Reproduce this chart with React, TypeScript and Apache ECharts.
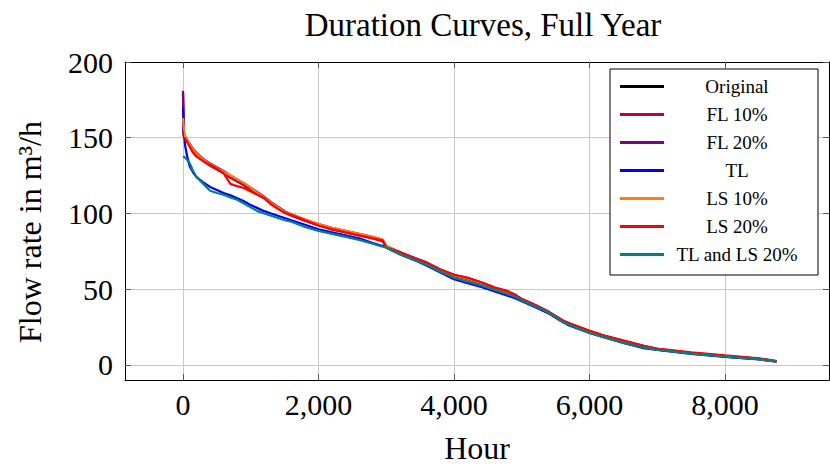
import React, { useEffect, useRef } from 'react';
import * as echarts from 'echarts';

const FONT = '"Liberation Serif", "Times New Roman", serif';

const hours = [0, 10, 30, 60, 100, 150, 200, 300, 400, 500, 600, 700, 800, 900, 1000, 1100, 1200, 1300, 1400, 1500, 1600, 1800, 2000, 2200, 2400, 2600, 2800, 2950, 3000, 3200, 3400, 3600, 3800, 4000, 4200, 4400, 4600, 4800, 4900, 5000, 5200, 5400, 5600, 5700, 6000, 6200, 6500, 6800, 7000, 7500, 8000, 8500, 8760];

const original = [180, 152, 150, 148, 145, 141.5, 139, 135, 132, 129.5, 127, 124, 121.5, 119, 116, 113, 110.5, 107, 104, 101, 99, 95.5, 92.5, 90, 88, 86, 84, 82, 78, 74, 70.5, 67, 62.5, 59, 57, 54, 50.5, 48, 46, 43, 39, 34.5, 29, 27, 22, 19, 15.5, 12, 10.3, 7.8, 5.8, 4, 2.3];
const fl10 = [179, 151, 149.5, 147.5, 144.5, 141, 138.5, 134.5, 131.5, 129, 126.5, 123.5, 121, 118.5, 115.5, 112.5, 110, 106.5, 103.5, 100.5, 98.5, 95, 92, 89.5, 87.5, 85.5, 83.5, 81.5, 77.5, 73.5, 70, 66.5, 62, 58.5, 56.5, 53.5, 50, 47.5, 45.5, 42.5, 38.5, 34, 28.5, 26.5, 21.5, 18.5, 15, 11.5, 10, 7.5, 5.5, 3.8, 2.2];
const fl20 = [181, 153, 151, 148.5, 146, 142.5, 140, 136, 133, 130.5, 128, 125, 122.5, 120, 117, 114, 111, 107.5, 104.5, 101.5, 99.5, 96, 93, 90.5, 88.5, 86.5, 84.5, 82.5, 78.5, 74.5, 71, 67.5, 63, 59.5, 57.5, 54.5, 51, 48.5, 46.5, 43.5, 39.5, 35, 29.5, 27.5, 22.5, 19.5, 16, 12.5, 10.6, 8, 6, 4.2, 2.5];
const tl = [170, 155, 145, 138, 131, 127, 124, 120.5, 117.5, 115.5, 113.5, 112, 110, 108, 105.5, 103.5, 101.5, 100, 98.5, 97, 95.5, 92.5, 89.5, 87.5, 85.5, 83.5, 80.5, 78.5, 77.5, 73, 69.5, 65.5, 61, 56.5, 54, 51.5, 48.5, 45.5, 44, 42, 38, 34, 28.5, 26, 21, 18.5, 14.5, 11, 9.8, 7.3, 5.3, 3.6, 2.1];
const ls10 = [163, 158, 151, 148.5, 145.5, 142, 139.5, 135.5, 132.5, 130, 127.5, 125, 122.5, 120, 117, 113.5, 110.5, 107, 104, 101, 99.5, 96, 93, 90.5, 88.5, 86.5, 84.5, 82.5, 78.5, 74, 70.5, 67, 62.5, 59, 57, 54, 50.5, 48, 46, 43, 39, 34.5, 29, 27, 22, 19, 15.5, 12, 10.3, 7.8, 5.8, 4, 2.3];
const ls20 = [150, 150, 149.5, 147, 144, 140, 137.5, 134.5, 132, 129.5, 126.5, 119.5, 118, 116.8, 114.5, 112.3, 110, 106, 103, 100.5, 99, 95.5, 92, 89.5, 87.5, 85.5, 83.5, 82, 77.5, 74.5, 70.5, 67.5, 63, 59.5, 57.5, 54.5, 51, 48.5, 46, 43.5, 39.5, 35, 29.5, 27.5, 22.5, 19.5, 16, 12.5, 10.8, 8.2, 6.2, 4.3, 2.5];
const tlls20 = [137.5, 137.5, 137, 135.5, 133, 128, 124, 119.5, 115, 113.5, 112.3, 110.5, 109, 106.5, 104, 101.5, 100, 98.5, 97, 95.5, 94.5, 91, 88.5, 86.5, 84.5, 82.5, 80, 78, 77.5, 73, 69.5, 66, 61.5, 57.5, 55, 52.5, 49.5, 46.5, 45, 42.5, 38.5, 34.5, 28.5, 26.5, 21, 18.5, 14.5, 11.5, 10, 7.4, 5.5, 3.8, 2.2];

const seriesNames = ['Original', 'FL 10%', 'FL 20%', 'TL', 'LS 10%', 'LS 20%', 'TL and LS 20%'];
const seriesValues = [original, fl10, fl20, tl, ls10, ls20, tlls20];
const seriesColors = ['#000000', '#BF0040', '#800080', '#0000FF', '#FF8000', '#FF0000', '#008080'];

const xTicks = [0, 2000, 4000, 6000, 8000];
const yTicks = [0, 50, 100, 150, 200];

const title = 'Duration Curves, Full Year';
const xName = 'Hour';
const yName = 'Flow rate in m³/h';

export default function App() {
  const ref = useRef<HTMLDivElement>(null);
  useEffect(() => {
    const chart = echarts.init(ref.current!, null, { renderer: 'svg' });
    const tickStyle = { show: true, inside: true, length: 6, lineStyle: { color: '#555', width: 1 } };
    const option: any = {
      animation: false,
      backgroundColor: '#fff',
      title: {
        text: title,
        left: 478,
        top: 3,
        textAlign: 'center',
        textStyle: { fontFamily: FONT, fontSize: 33, fontWeight: 'normal', color: '#000' },
      },
      grid: { left: 125, right: 1, top: 62, bottom: 90, containLabel: false, outerBoundsMode: 'none' },
      legend: {
        orient: 'vertical',
        left: 610,
        top: 69,
        data: seriesNames,
        backgroundColor: '#fff',
        borderColor: '#000',
        borderWidth: 1,
        borderRadius: 0,
        padding: [8, 13, 11, 10],
        icon: 'rect',
        itemWidth: 44,
        itemHeight: 3,
        itemGap: 9,
        itemTextGap: 8,
        selectedMode: false,
        formatter: (n: string) => `{c|${n}}`,
        textStyle: {
          color: '#000',
          rich: { c: { width: 136, align: 'center', fontFamily: FONT, fontSize: 19, lineHeight: 18, color: '#000' } },
        },
      },
      xAxis: [
        {
          type: 'value',
          min: -856,
          max: 9535,
          position: 'bottom',
          axisLine: { show: true, onZero: false, lineStyle: { color: '#000', width: 1 } },
          axisTick: { ...tickStyle, customValues: xTicks },
          axisLabel: {
            customValues: xTicks,
            margin: 9,
            fontFamily: FONT,
            fontSize: 30,
            color: '#000',
            formatter: (v: number) => v.toLocaleString('en-US'),
          },
          splitLine: { show: true, lineStyle: { color: '#c8c8c8', width: 1 } },
          name: xName,
          nameLocation: 'middle',
          nameGap: 52,
          nameTextStyle: { fontFamily: FONT, fontSize: 32, color: '#000' },
        },
        {
          type: 'value',
          min: -856,
          max: 9535,
          position: 'top',
          axisLine: { show: true, onZero: false, lineStyle: { color: '#000', width: 1 } },
          axisTick: { ...tickStyle, customValues: xTicks },
          axisLabel: { show: false, customValues: xTicks },
          splitLine: { show: false },
        },
      ],
      yAxis: [
        {
          type: 'value',
          min: -10,
          max: 200,
          position: 'left',
          axisLine: { show: true, onZero: false, lineStyle: { color: '#000', width: 1 } },
          axisTick: { ...tickStyle, customValues: yTicks },
          axisLabel: { customValues: yTicks, margin: 12, fontFamily: FONT, fontSize: 30, color: '#000' },
          splitLine: { show: true, lineStyle: { color: '#c8c8c8', width: 1 } },
        },
        {
          type: 'value',
          min: -10,
          max: 200,
          position: 'right',
          axisLine: { show: true, onZero: false, lineStyle: { color: '#000', width: 1 } },
          axisTick: { ...tickStyle, customValues: yTicks },
          axisLabel: { show: false, customValues: yTicks },
          splitLine: { show: false },
        },
      ],
      graphic: [
        {
          type: 'text',
          x: 30,
          y: 232,
          rotation: Math.PI / 2,
          style: { text: yName, fontFamily: FONT, fontSize: 32, fill: '#000', align: 'center', verticalAlign: 'middle' },
        },
      ],
      series: seriesNames.map((name, i) => ({
        name,
        type: 'line',
        xAxisIndex: 0,
        yAxisIndex: 0,
        symbol: 'none',
        showSymbol: false,
        clip: true,
        color: seriesColors[i],
        itemStyle: { color: seriesColors[i] },
        lineStyle: { color: seriesColors[i], width: 2.2 },
        data: hours.map((h, j) => [h, seriesValues[i][j]]),
      })),
    };
    chart.setOption(option);
    return () => chart.dispose();
  }, []);
  return <div ref={ref} style={{ position: 'fixed', left: 0, top: 0, width: 830, height: 470, background: '#fff' }} />;
}
